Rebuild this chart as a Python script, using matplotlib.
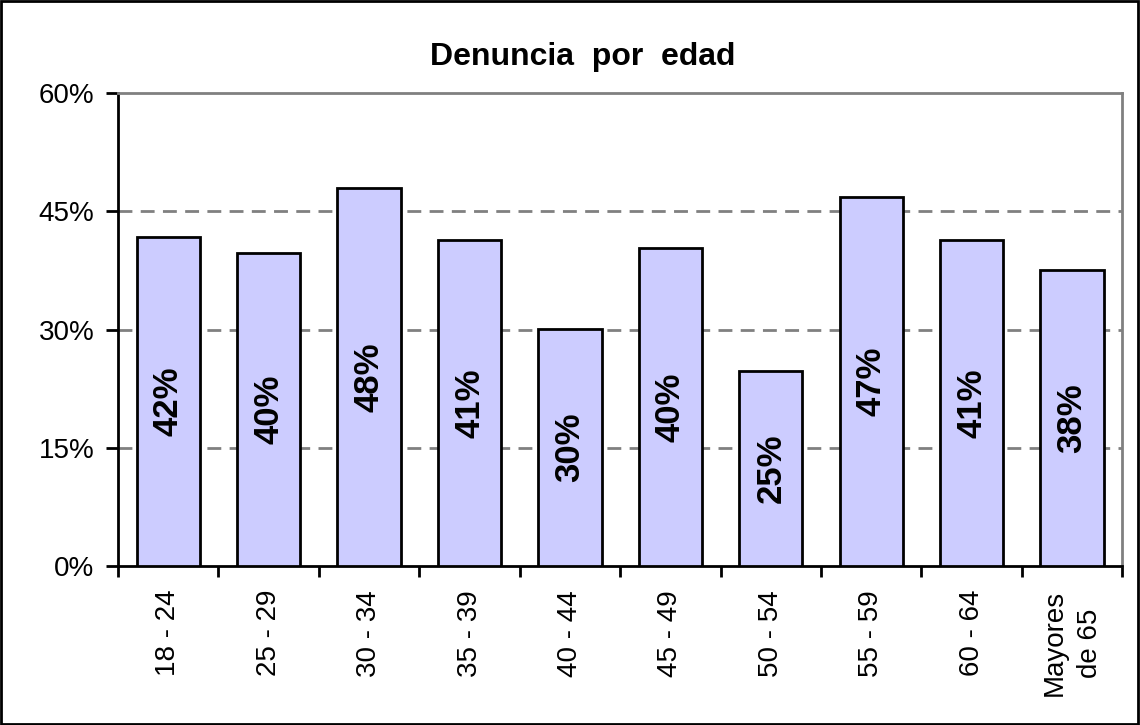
import numpy as np
import matplotlib.pyplot as plt

plt.rcParams['font.family'] = ['Liberation Sans', 'DejaVu Sans']

# data
grupos = ["18 - 24", "25 - 29", "30 - 34", "35 - 39", "40 - 44",
          "45 - 49", "50 - 54", "55 - 59", "60 - 64", "Mayores\nde 65"]
denuncia = [41.7, 39.7, 47.9, 41.3, 30.1, 40.3, 24.8, 46.8, 41.3, 37.6]
yticks = [0, 15, 30, 45, 60]

fig = plt.figure(figsize=(11.4, 7.25), dpi=100)
ax = fig.add_axes([0.1035, 0.219, 0.881, 0.653])

x = np.arange(len(grupos))
bars = ax.bar(x, denuncia, width=0.63, color="#CCCCFF", edgecolor="black",
              linewidth=2, zorder=3)

for b, v in zip(bars, denuncia):
  ax.text(b.get_x() + b.get_width() / 2, v / 2, f"{round(v):.0f}%",
          rotation=90, ha="center", va="center", fontsize=25,
          fontweight="bold", zorder=4)

ax.set_xlim(-0.5, len(grupos) - 0.5)
ax.set_ylim(0, 60)
ax.set_yticks(yticks)
ax.set_yticklabels([f"{t}%" for t in yticks], fontsize=20)
for t in yticks[1:-1]:
  ax.axhline(t, color="#808080", linestyle=(0, (5, 3)), linewidth=2, zorder=1)

ax.set_xticks(x)
ax.set_xticklabels(grupos, rotation=90, fontsize=20, ha="center", va="top",
                   multialignment="center", linespacing=1.45)
ax.tick_params(axis="x", length=0, pad=17)
ax.set_xticks(np.arange(len(grupos) + 1) - 0.5, minor=True)
ax.tick_params(axis="x", which="minor", length=8, width=2, direction="out")
ax.tick_params(axis="y", length=9, width=2, direction="out", pad=8)

ax.spines["left"].set_linewidth(2)
ax.spines["bottom"].set_linewidth(2)
ax.spines["top"].set_color("#808080")
ax.spines["right"].set_color("#808080")
ax.spines["top"].set_linewidth(2)
ax.spines["right"].set_linewidth(2)

fig.text(0.511, 0.922, "Denuncia  por  edad", ha="center", va="center",
         fontsize=23, fontweight="bold")

# frame around the whole chart
fig.patches.append(plt.Rectangle((0.001, 0.002), 0.997, 0.996, transform=fig.transFigure,
                                 fill=False, edgecolor="black", linewidth=2))

fig.savefig("out.png", dpi=100)
